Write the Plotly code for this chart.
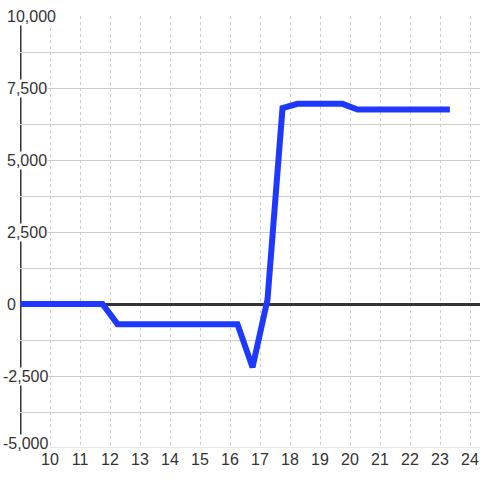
import plotly.graph_objects as go

# data
x_vals = [9, 11.75, 12.25, 16.25, 16.75, 17.25, 17.75, 18.25, 19.75, 20.25, 23.33]
y_vals = [0, 0, -700, -700, -2200, 150, 6800, 6950, 6950, 6750, 6750]
x_ticks = list(range(10, 25))
y_label_vals = [10000, 7500, 5000, 2500, 0, -2500, -5000]
y_label_text = ["10,000", "7,500", "5,000", "2,500", "0", "-2,500", "-5,000"]
y_grid_vals = [-3750, -2500, -1250, 0, 1250, 2500, 3750, 5000, 6250, 7500, 8750, 10000]

FONT = "Liberation Sans, Arial, sans-serif"
FS = 16
TXT = "#333333"
W, H = 480, 480
L, R, T, B = 20, 0, 16, 32
XMIN, XMAX = 9, 9 + (W - L - R) / 30.0

fig = go.Figure()
fig.add_trace(go.Scatter(
    x=x_vals, y=y_vals, mode="lines",
    line=dict(color="#1f38ff", width=6),
    hoverinfo="skip", showlegend=False,
))

shapes = [
    dict(type="line", xref="x", yref="paper", x0=9, x1=9, y0=0, y1=1,
         line=dict(color="#333333", width=3), layer="below"),
    dict(type="line", xref="x", yref="y", x0=10, x1=XMAX, y0=-5000, y1=-5000,
         line=dict(color="#cccccc", width=1), layer="below"),
]

annotations = []
for v, t in zip(y_label_vals, y_label_text):
    px = 2 if v < 0 else 6
    annotations.append(dict(
        x=(px - L) / (W - L - R), xref="paper", xanchor="left",
        y=v, yref="y", yanchor="middle", yshift=5 if v == -5000 else 0,
        text=t, showarrow=False, bgcolor="white", borderpad=0,
        font=dict(family=FONT, size=FS, color=TXT),
    ))

fig.update_layout(
    width=W, height=H,
    margin=dict(l=L, r=R, t=T, b=B, pad=0, autoexpand=False),
    paper_bgcolor="white", plot_bgcolor="white",
    shapes=shapes, annotations=annotations,
    xaxis=dict(
        range=[XMIN, XMAX], tickvals=x_ticks, ticktext=[str(v) for v in x_ticks],
        showgrid=True, gridcolor="#cccccc", griddash="dot", gridwidth=1,
        zeroline=False, showline=False, ticks="", automargin=False,
        tickfont=dict(family=FONT, size=FS, color=TXT),
    ),
    yaxis=dict(
        range=[-5000, 10000], tickvals=y_grid_vals, showticklabels=False,
        showgrid=True, gridcolor="#cccccc", gridwidth=1,
        zeroline=True, zerolinecolor="#333333", zerolinewidth=3,
        showline=False, ticks="", automargin=False,
    ),
)

fig.write_html("out.html", config={"displayModeBar": False},
               post_script="document.body.style.margin='0';document.body.style.overflow='hidden';")
